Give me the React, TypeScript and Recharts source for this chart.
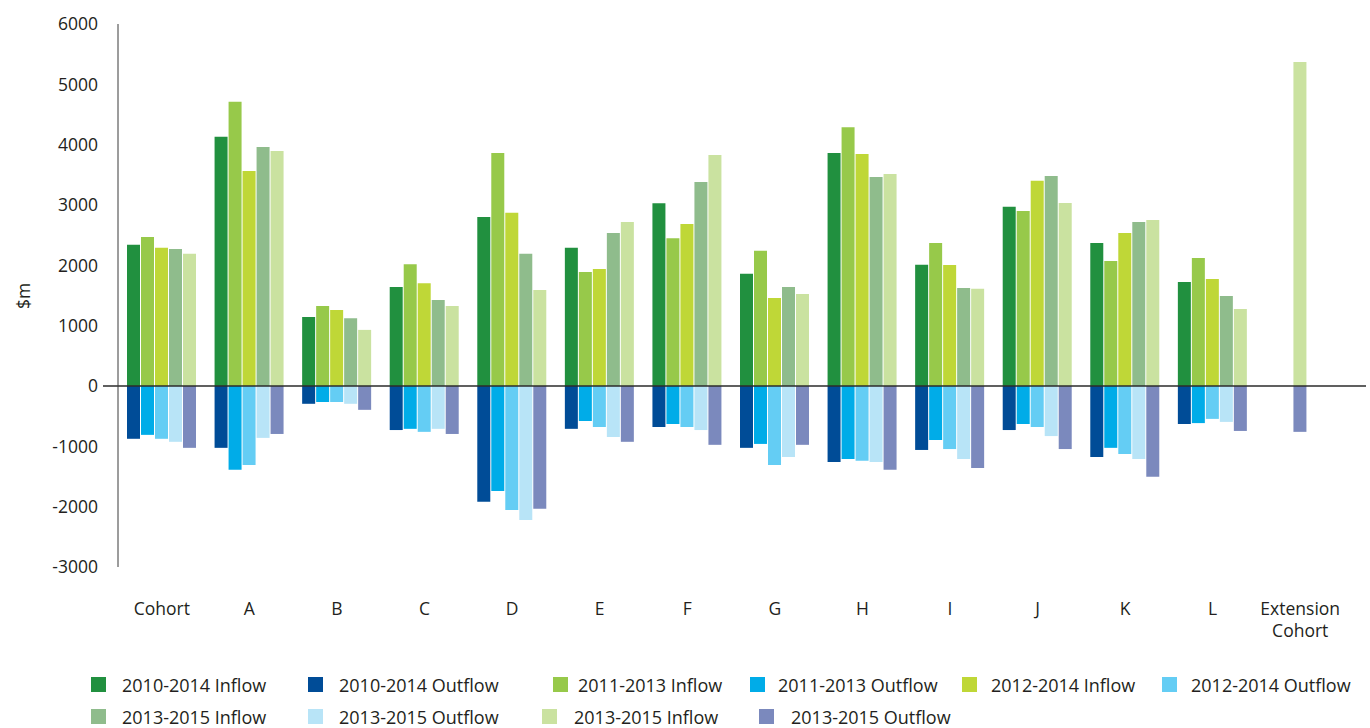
import React from 'react';
import { BarChart, Bar, XAxis, YAxis, ReferenceLine, Rectangle } from 'recharts';

const categories = ['Cohort', 'A', 'B', 'C', 'D', 'E', 'F', 'G', 'H', 'I', 'J', 'K', 'L', 'Extension Cohort'];

const inflow2010_2014 = [2340, 4130, 1145, 1640, 2800, 2290, 3030, 1860, 3860, 2010, 2970, 2370, 1725, null];
const inflow2011_2013 = [2470, 4710, 1325, 2020, 3860, 1890, 2450, 2240, 4290, 2370, 2900, 2070, 2120, null];
const inflow2012_2014 = [2290, 3565, 1260, 1705, 2870, 1940, 2685, 1460, 3845, 2005, 3400, 2535, 1775, null];
const inflow2013_2015a = [2270, 3960, 1125, 1425, 2190, 2535, 3380, 1640, 3465, 1625, 3480, 2720, 1490, null];
const inflow2013_2015b = [2190, 3895, 930, 1325, 1590, 2720, 3830, 1525, 3515, 1610, 3035, 2750, 1275, 5370];

const outflow2010_2014 = [-875, -1025, -295, -730, -1920, -710, -680, -1025, -1260, -1060, -730, -1175, -630, null];
const outflow2011_2013 = [-810, -1390, -265, -710, -1740, -580, -630, -960, -1210, -895, -630, -1025, -615, null];
const outflow2012_2014 = [-875, -1310, -265, -760, -2055, -680, -680, -1310, -1240, -1045, -680, -1125, -545, null];
const outflow2013_2015a = [-925, -860, -295, -710, -2220, -845, -730, -1175, -1260, -1210, -830, -1210, -595, null];
const outflow2013_2015b = [-1025, -795, -395, -795, -2035, -925, -975, -975, -1390, -1360, -1045, -1505, -745, -760];

const yTicks = [-3000, -2000, -1000, 0, 1000, 2000, 3000, 4000, 5000, 6000];

const series = [
  { key: 'in1', stack: 's1', name: '2010-2014 Inflow', color: '#21903f', values: inflow2010_2014 },
  { key: 'out1', stack: 's1', name: '2010-2014 Outflow', color: '#004c97', values: outflow2010_2014 },
  { key: 'in2', stack: 's2', name: '2011-2013 Inflow', color: '#97c94a', values: inflow2011_2013 },
  { key: 'out2', stack: 's2', name: '2011-2013 Outflow', color: '#00ace8', values: outflow2011_2013 },
  { key: 'in3', stack: 's3', name: '2012-2014 Inflow', color: '#bfd737', values: inflow2012_2014 },
  { key: 'out3', stack: 's3', name: '2012-2014 Outflow', color: '#64cdf4', values: outflow2012_2014 },
  { key: 'in4', stack: 's4', name: '2013-2015 Inflow', color: '#8fbc8c', values: inflow2013_2015a },
  { key: 'out4', stack: 's4', name: '2013-2015 Outflow', color: '#b8e4f7', values: outflow2013_2015a },
  { key: 'in5', stack: 's5', name: '2013-2015 Inflow', color: '#cae2a0', values: inflow2013_2015b },
  { key: 'out5', stack: 's5', name: '2013-2015 Outflow', color: '#7b89bd', values: outflow2013_2015b },
];

// legend item placement (square left, text left, row)
const legendPos = [
  [91, 122, 0], [308, 339, 0], [553, 578, 0], [750, 778, 0], [962, 991, 0], [1162, 1191, 0],
  [91, 122, 1], [308, 339, 1], [542, 574, 1], [759, 791, 1],
];

const data = categories.map((name, i) => {
  const row: Record<string, any> = { name };
  series.forEach((s) => { row[s.key] = s.values[i]; });
  return row;
});

const TEXT = '#231f20';
const FONT = '"Open Sans", sans-serif';
const BAR_SIZE = 13;
const BAR_GAP = 1;

const CategoryTick = (props: any) => {
  const { x, y, payload } = props;
  const lines = payload.value.length > 8 ? payload.value.split(' ') : [payload.value];
  return (
    <text x={x} y={y} textAnchor="middle" fill={TEXT} fontSize={17.5} fontFamily={FONT}>
      {lines.map((l: string, i: number) => (
        <tspan key={i} x={x} dy={i === 0 ? '0.71em' : 22}>{l}</tspan>
      ))}
    </text>
  );
};

// the extension cohort has a single series, drawn centred in its band
const CentredShape = (props: any) => {
  const shift = props.payload && props.payload.name === 'Extension Cohort' ? -2 * (BAR_SIZE + BAR_GAP) : 0;
  return <Rectangle {...props} x={props.x + shift} />;
};

export default function App() {
  return (
    <div style={{ position: 'absolute', left: 0, top: 0, width: 1370, height: 728, fontFamily: FONT, background: '#fff', overflow: 'hidden' }}>
      <BarChart
        width={1370}
        height={728}
        data={data}
        stackOffset="sign"
        barSize={BAR_SIZE}
        barGap={BAR_GAP}
        margin={{ top: 24, right: 4, left: 0, bottom: 101 }}
      >
        <XAxis
          dataKey="name"
          axisLine={false}
          tickLine={false}
          tickSize={0}
          tickMargin={36}
          height={60}
          interval={0}
          padding={{ left: 0, right: 22 }}
          tick={<CategoryTick />}
        />
        <YAxis
          width={118}
          domain={[-3000, 6000]}
          ticks={yTicks}
          interval={0}
          tickLine={false}
          tickSize={0}
          tickMargin={20}
          axisLine={{ stroke: '#3a3a3a', strokeWidth: 1 }}
          tick={{ fill: TEXT, fontSize: 17.5, fontFamily: FONT }}
          label={{
            content: () => (
              <text x={23} y={296} transform="rotate(-90 23 296)" textAnchor="middle" dominantBaseline="central" fill={TEXT} fontSize={17.5} fontFamily={FONT}>
                $m
              </text>
            ),
          }}
        />
        {series.map((s) => (
          <Bar
            key={s.key}
            dataKey={s.key}
            stackId={s.stack}
            name={s.name}
            fill={s.color}
            isAnimationActive={false}
            shape={s.stack === 's5' ? (p: any) => <CentredShape {...p} /> : undefined}
          />
        ))}
        <ReferenceLine
          y={0}
          stroke="#2b2b2b"
          strokeWidth={1.5}
          shape={(p: any) => <line x1={p.x1 - 15} y1={p.y1} x2={p.x2} y2={p.y2} stroke="#2b2b2b" strokeWidth={1.5} />}
        />
      </BarChart>
      {series.map((s, i) => {
        const [sq, tx, row] = legendPos[i];
        const cy = 685 + row * 32;
        return (
          <React.Fragment key={s.key}>
            <div style={{ position: 'absolute', left: sq, top: cy - 8, width: 15, height: 15, background: s.color }} />
            <div style={{ position: 'absolute', left: tx, top: cy - 10, height: 20, lineHeight: '20px', fontSize: 18, color: TEXT, whiteSpace: 'nowrap' }}>
              {s.name}
            </div>
          </React.Fragment>
        );
      })}
    </div>
  );
}
